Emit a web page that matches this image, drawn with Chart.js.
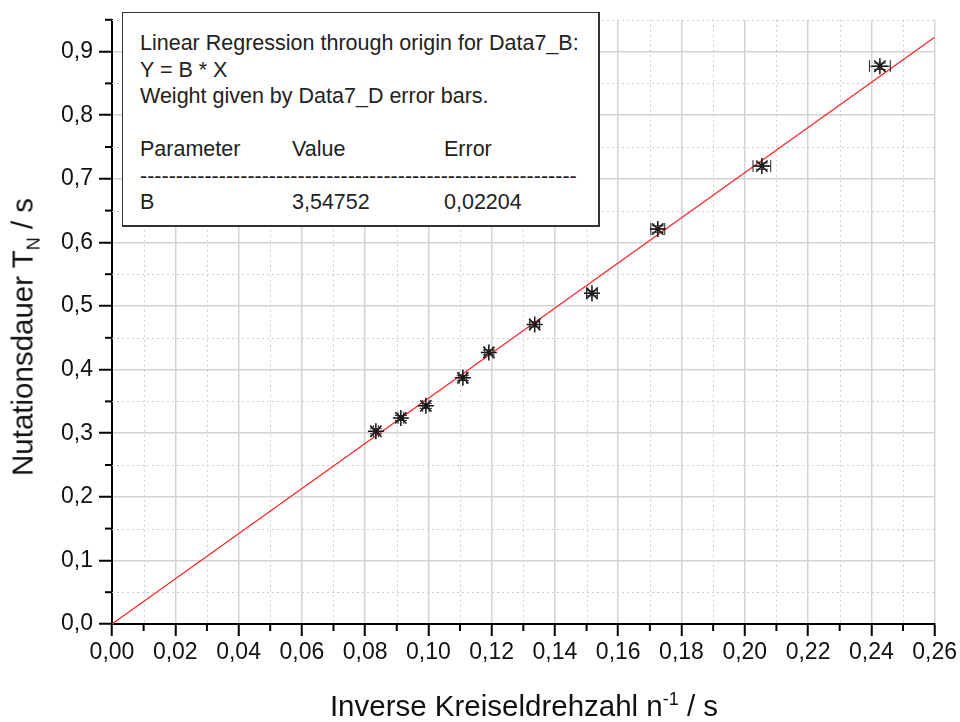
<!DOCTYPE html>
<html><head><meta charset="utf-8">
<script src="https://cdn.jsdelivr.net/npm/chart.js@4"></script>
<style>
body{margin:0;background:#fff;}
#wrap{position:relative;width:960px;height:722px;font-family:"Liberation Sans",Arial,sans-serif;overflow:hidden;}
canvas{position:absolute;left:0;top:0;}
#box{position:absolute;left:122px;top:12px;width:478px;height:215px;border:1.5px solid #333;border-right-width:2px;border-bottom-width:2px;background:#fff;box-sizing:border-box;font-size:21.5px;color:#222;}
#box span{position:absolute;white-space:nowrap;transform:translateY(-50%);}
.ttl{position:absolute;white-space:nowrap;font-size:29.5px;color:#111;}
.ttl sub,.ttl sup{font-size:18px;}
</style></head>
<body>
<div id="wrap">
<canvas id="c" width="960" height="722"></canvas>
<div id="box">
<span style="left:17px;top:30px">Linear Regression through origin for Data7_B:</span>
<span style="left:17px;top:57px">Y = B * X</span>
<span style="left:17px;top:83px">Weight given by Data7_D error bars.</span>
<span style="left:17px;top:136px">Parameter</span>
<span style="left:169px;top:136px">Value</span>
<span style="left:321px;top:136px">Error</span>
<span style="left:17px;top:163px">-------------------------------------------------------------</span>
<span style="left:17px;top:189px">B</span>
<span style="left:169px;top:189px">3,54752</span>
<span style="left:321px;top:189px">0,02204</span>
</div>
<div class="ttl" style="left:25px;top:337px;transform:translate(-50%,-50%) rotate(-90deg)">Nutationsdauer T<sub>N</sub> / s</div>
<div class="ttl" style="left:524px;top:706px;transform:translate(-50%,-50%)">Inverse Kreiseldrehzahl n<sup>-1</sup> / s</div>
</div>
<script>
const xValues = [0.0834, 0.0913, 0.0992, 0.1109, 0.1191, 0.1336, 0.1517, 0.1725, 0.2054, 0.2427];
const yValues = [0.303, 0.324, 0.343, 0.387, 0.427, 0.471, 0.520, 0.621, 0.720, 0.877];
const xErrors = [0.0008, 0.0009, 0.0010, 0.0012, 0.0013, 0.0015, 0.0017, 0.0022, 0.0028, 0.0033];
const yErrors = [0.004, 0.004, 0.004, 0.004, 0.004, 0.004, 0.004, 0.005, 0.005, 0.005];
const fitX = [0, 0.26];
const fitY = [0, 0.9224];
const xTickValues = [0,0.02,0.04,0.06,0.08,0.10,0.12,0.14,0.16,0.18,0.20,0.22,0.24,0.26];
const xMinorTicks = [0.01,0.03,0.05,0.07,0.09,0.11,0.13,0.15,0.17,0.19,0.21,0.23,0.25];
const yTickValues = [0,0.1,0.2,0.3,0.4,0.5,0.6,0.7,0.8,0.9];
const yMinorTicks = [0.05,0.15,0.25,0.35,0.45,0.55,0.65,0.75,0.85,0.95];

const minorPlugin = {
  id:'minor',
  beforeDatasetsDraw(chart){
    const {ctx, chartArea:a, scales:{x,y}} = chart;
    ctx.save();
    ctx.strokeStyle='#cfcfcf'; ctx.lineWidth=1; ctx.setLineDash([2,3]);
    xMinorTicks.forEach(v=>{const p=Math.round(x.getPixelForValue(v))+0.5;ctx.beginPath();ctx.moveTo(p,a.top);ctx.lineTo(p,a.bottom);ctx.stroke();});
    yMinorTicks.forEach(v=>{const p=Math.round(y.getPixelForValue(v))+0.5;ctx.beginPath();ctx.moveTo(a.left,p);ctx.lineTo(a.right,p);ctx.stroke();});
    ctx.setLineDash([]);
    ctx.strokeStyle='#000'; ctx.lineWidth=2;
    xMinorTicks.forEach(v=>{const p=x.getPixelForValue(v);ctx.beginPath();ctx.moveTo(p,a.bottom);ctx.lineTo(p,a.bottom+7);ctx.stroke();});
    yMinorTicks.forEach(v=>{const p=y.getPixelForValue(v);ctx.beginPath();ctx.moveTo(a.left,p);ctx.lineTo(a.left-7,p);ctx.stroke();});
    ctx.restore();
  }
};
const errPlugin = {
  id:'err',
  afterDatasetsDraw(chart){
    const {ctx, scales:{x,y}} = chart;
    ctx.save(); ctx.strokeStyle='#222'; ctx.lineWidth=1;
    xValues.forEach((xv,i)=>{
      const yv=yValues[i];
      const px=x.getPixelForValue(xv), py=y.getPixelForValue(yv);
      const x1=x.getPixelForValue(xv-xErrors[i]), x2=x.getPixelForValue(xv+xErrors[i]);
      const y1=y.getPixelForValue(yv-yErrors[i]), y2=y.getPixelForValue(yv+yErrors[i]);
      ctx.beginPath();
      ctx.moveTo(x1,py);ctx.lineTo(x2,py);
      ctx.moveTo(x1,py-6);ctx.lineTo(x1,py+6);
      ctx.moveTo(x2,py-6);ctx.lineTo(x2,py+6);
      ctx.moveTo(px,y1);ctx.lineTo(px,y2);
      ctx.moveTo(px-6,y1);ctx.lineTo(px+6,y1);
      ctx.moveTo(px-6,y2);ctx.lineTo(px+6,y2);
      ctx.stroke();
    });
    ctx.restore();
  }
};
const fmt = (v,d)=>v.toFixed(d).replace('.',',');
new Chart(document.getElementById('c'),{
  data:{datasets:[
    {type:'line',data:fitX.map((v,i)=>({x:v,y:fitY[i]})),borderColor:'#ff2020',borderWidth:1.2,pointRadius:0,order:2},
    {type:'scatter',data:xValues.map((v,i)=>({x:v,y:yValues[i]})),pointStyle:'star',pointRadius:8,borderColor:'#111',backgroundColor:'#111',borderWidth:1.5,order:1}
  ]},
  options:{
    responsive:false,animation:false,
    layout:{padding:{top:14,right:25,left:0,bottom:0}},
    plugins:{legend:{display:false},tooltip:{enabled:false}},
    scales:{
      x:{type:'linear',min:0,max:0.26,
        afterBuildTicks:s=>{s.ticks=xTickValues.map(v=>({value:v}));},
        afterFit:s=>{s.height=98;},
        ticks:{callback:v=>fmt(v,2),font:{family:'"Liberation Sans", Arial, sans-serif',size:23},color:'#111',padding:3,maxRotation:0,autoSkip:false},
        grid:{color:'#d4d4d4',lineWidth:1.5,tickLength:12,tickColor:'#000',tickWidth:2},
        border:{color:'#000',width:2}},
      y:{type:'linear',min:0,max:0.95,
        afterBuildTicks:s=>{s.ticks=yTickValues.map(v=>({value:v}));},
        afterFit:s=>{s.width=112;},
        ticks:{callback:v=>fmt(v,1),font:{family:'"Liberation Sans", Arial, sans-serif',size:23},color:'#111',padding:6,autoSkip:false},
        grid:{color:'#d4d4d4',lineWidth:1.5,tickLength:13,tickColor:'#000',tickWidth:2},
        border:{color:'#000',width:2}}
    }
  },
  plugins:[minorPlugin,errPlugin]
});
</script>
</body></html>
